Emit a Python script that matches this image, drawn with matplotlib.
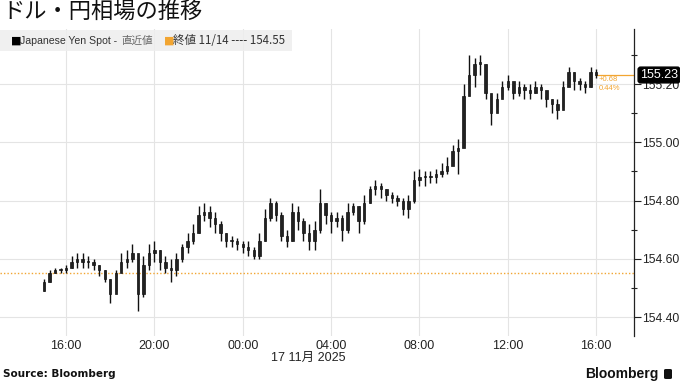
"""USD/JPY intraday chart (Bloomberg style)."""
import numpy as np
import pandas as pd
import matplotlib
matplotlib.use("Agg")
import matplotlib.pyplot as plt
import matplotlib.dates as mdates
from matplotlib.patches import Rectangle, FancyBboxPatch

plt.rcParams["font.family"] = ["Liberation Sans", "Noto Sans CJK JP", "DejaVu Sans"]

# 15-minute bars, 16 Nov 15:00 -> 17 Nov 16:00
bar_times = pd.date_range("2025-11-16 15:00", "2025-11-17 16:00", freq="15min")
first_open = 154.49
closes = [
    154.52, 154.55, 154.56, 154.56, 154.57, 154.59, 154.60, 154.59, 154.59, 154.58,
    154.56, 154.53, 154.48, 154.55, 154.59, 154.60, 154.62, 154.48, 154.58, 154.62,
    154.63, 154.59, 154.57, 154.56, 154.60, 154.64, 154.66, 154.69, 154.75, 154.76,
    154.74, 154.72, 154.69, 154.66, 154.66, 154.65, 154.64, 154.63, 154.61, 154.66,
    154.74, 154.79, 154.75, 154.68, 154.66, 154.76, 154.73, 154.69, 154.66, 154.70,
    154.79, 154.75, 154.73, 154.74, 154.70, 154.76, 154.78, 154.73, 154.79, 154.84,
    154.85, 154.84, 154.82, 154.81, 154.80, 154.77, 154.80, 154.87, 154.88, 154.88,
    154.88, 154.89, 154.90, 154.92, 154.97, 154.98, 155.16, 155.23, 155.27, 155.27,
    155.17, 155.10, 155.15, 155.19, 155.21, 155.17, 155.19, 155.18, 155.17, 155.19,
    155.18, 155.15, 155.13, 155.11, 155.19, 155.24, 155.21, 155.20, 155.19, 155.24,
    155.23,
]
highs = [
    154.53, 154.56, 154.57, 154.57, 154.58, 154.61, 154.62, 154.62, 154.61, 154.60,
    154.58, 154.56, 154.53, 154.56, 154.62, 154.63, 154.65, 154.61, 154.61, 154.65,
    154.66, 154.63, 154.61, 154.60, 154.62, 154.65, 154.69, 154.72, 154.78, 154.79,
    154.78, 154.76, 154.73, 154.69, 154.68, 154.67, 154.66, 154.66, 154.64, 154.69,
    154.77, 154.81, 154.80, 154.76, 154.70, 154.79, 154.78, 154.74, 154.72, 154.73,
    154.84, 154.79, 154.76, 154.76, 154.75, 154.79, 154.79, 154.78, 154.82, 154.85,
    154.87, 154.86, 154.84, 154.83, 154.82, 154.81, 154.82, 154.90, 154.91, 154.90,
    154.90, 154.91, 154.93, 154.95, 154.99, 155.01, 155.20, 155.30, 155.29, 155.30,
    155.27, 155.16, 155.17, 155.21, 155.23, 155.20, 155.21, 155.20, 155.20, 155.21,
    155.20, 155.16, 155.15, 155.15, 155.21, 155.26, 155.24, 155.22, 155.21, 155.26,
    155.25,
]
lows = [
    154.49, 154.52, 154.55, 154.55, 154.55, 154.57, 154.57, 154.57, 154.57, 154.56,
    154.54, 154.52, 154.45, 154.49, 154.56, 154.57, 154.59, 154.42, 154.47, 154.56,
    154.59, 154.56, 154.55, 154.52, 154.54, 154.59, 154.62, 154.65, 154.69, 154.73,
    154.71, 154.69, 154.66, 154.64, 154.64, 154.63, 154.62, 154.61, 154.60, 154.60,
    154.66, 154.73, 154.73, 154.66, 154.64, 154.66, 154.70, 154.66, 154.63, 154.63,
    154.69, 154.72, 154.69, 154.71, 154.66, 154.69, 154.75, 154.69, 154.72, 154.79,
    154.82, 154.81, 154.80, 154.79, 154.78, 154.75, 154.74, 154.79, 154.85, 154.85,
    154.86, 154.86, 154.88, 154.89, 154.93, 154.89, 154.99, 155.20, 155.19, 155.23,
    155.15, 155.06, 155.12, 155.16, 155.18, 155.15, 155.16, 155.15, 155.15, 155.17,
    155.15, 155.12, 155.10, 155.08, 155.12, 155.21, 155.18, 155.18, 155.17, 155.19,
    155.22,
]
prev_close = 154.55
last_price = 155.23
change_text = ["+0.68", "0.44%"]

tick_hours = pd.to_datetime(["2025-11-16 16:00", "2025-11-16 20:00", "2025-11-17 00:00",
                             "2025-11-17 04:00", "2025-11-17 08:00", "2025-11-17 12:00",
                             "2025-11-17 16:00"])
tick_labels = ["16:00", "20:00", "00:00", "04:00", "08:00", "12:00", "16:00"]
y_major = [154.40, 154.60, 154.80, 155.00, 155.20]
y_minor = [154.50, 154.70, 154.90, 155.10, 155.30]

ORANGE = "#f2a531"

fig = plt.figure(figsize=(6.8, 3.82), dpi=100)
ax = fig.add_axes([0.0, 0.1204, 0.9324, 0.8037])

x = mdates.date2num(bar_times)
opens = np.r_[first_open, closes[:-1]]
closes_a = np.array(closes)
w = 0.11 / 24

ax.vlines(x, lows, highs, color="#111111", lw=1.0, zorder=3)
bottom = np.minimum(opens, closes_a)
height = np.maximum(np.abs(closes_a - opens), 0.004)
ax.bar(x, height, bottom=bottom, width=w, color="#222222", edgecolor="#111111",
       lw=0.5, zorder=4)

ax.axhline(prev_close, color=ORANGE, lw=1.0, ls=(0, (1, 1.5)), zorder=2)
ax.plot([x[-1], mdates.date2num(pd.Timestamp("2025-11-17 18:00"))],
        [last_price, last_price], color=ORANGE, lw=0.9, zorder=2)
ax.text(x[-1] + 0.1 / 24, last_price - 0.015, change_text[0], color=ORANGE,
        fontsize=5.5, va="center")
ax.text(x[-1] + 0.1 / 24, last_price - 0.045, change_text[1], color=ORANGE,
        fontsize=5.5, va="center")

ax.set_xlim(mdates.date2num(pd.Timestamp("2025-11-16 13:00:30")),
            mdates.date2num(pd.Timestamp("2025-11-17 17:43")))
ax.set_ylim(154.335, 155.389)

ax.set_xticks(mdates.date2num(tick_hours))
ax.set_xticklabels(tick_labels)
ax.set_yticks(y_major)
ax.set_yticklabels([f"{v:.2f}" for v in y_major])
ax.set_yticks(y_minor, minor=True)
ax.yaxis.tick_right()
ax.tick_params(axis="y", which="major", direction="out", length=5, width=0.8,
               labelsize=8.7, colors="#222222", pad=1)
ax.tick_params(axis="y", which="minor", direction="inout", length=5, width=0.8,
               colors="#222222")
ax.tick_params(axis="x", length=0, labelsize=9, labelcolor="#222222", pad=3)

for s in ["top", "left", "bottom"]:
    ax.spines[s].set_visible(False)
ax.spines["right"].set_color("#222222")
ax.spines["right"].set_linewidth(0.9)
ax.grid(True, which="major", color="#e4e4e4", lw=0.8, zorder=0)
ax.set_axisbelow(True)

# last price tag
fig.text(640 / 680, 1 - 75 / 382, f"{last_price:.2f}", color="white", fontsize=9,
         va="center", ha="left", zorder=10,
         bbox=dict(boxstyle="round,pad=0.15,rounding_size=0.2", fc="black", ec="black"))

# title & legend strip
fig.text(2 / 680, 1 - 12 / 382, "ドル・円相場の推移", fontsize=16,
         family=["Noto Sans CJK JP"], va="center", ha="left", color="#111111")
fig.patches.append(Rectangle((0, 1 - 51 / 382), 292 / 680, 21 / 382,
                             transform=fig.transFigure, fc="#eeeeee", ec="none",
                             alpha=0.85, zorder=5))
fig.text(11 / 680, 1 - 41 / 382, "■", fontsize=8, color="black", va="center",
         family=["DejaVu Sans"], zorder=6)
fig.text(20 / 680, 1 - 41 / 382, "Japanese Yen Spot - ", fontsize=7.6, color="#333333",
         va="center", zorder=6)
fig.text(121 / 680, 1 - 41 / 382, "直近値", fontsize=7.6, color="#666666",
         va="center", family=["Noto Sans CJK JP"], zorder=6)
fig.text(164 / 680, 1 - 41 / 382, "■", fontsize=8, color=ORANGE, va="center",
         family=["DejaVu Sans"], zorder=6)
fig.text(173 / 680, 1 - 41 / 382, "終値 11/14 ---- 154.55", fontsize=8.3,
         color="#333333", va="center", family=["Noto Sans CJK JP", "Liberation Sans"],
         zorder=6)

# date label under the axis
fig.text(308 / 680, 1 - 358 / 382, "17 11月 2025", fontsize=9, color="#222222",
         ha="center", va="center", family=["Liberation Sans", "Noto Sans CJK JP"])

# footer
fig.text(3 / 680, 1 - 374 / 382, "Source: Bloomberg", fontsize=7.5, weight="bold",
         family=["DejaVu Sans"], va="center", color="#111111")
fig.text(659 / 680, 1 - 374 / 382, "Bloomberg", fontsize=10, weight="bold",
         ha="right", va="center", color="#111111")
fig.patches.append(FancyBboxPatch((664 / 680, 1 - 379 / 382), 8 / 680, 10 / 382,
                                  boxstyle="round,pad=0,rounding_size=0.003",
                                  transform=fig.transFigure, fc="#111111", ec="none"))

fig.savefig("out.png", dpi=100)
